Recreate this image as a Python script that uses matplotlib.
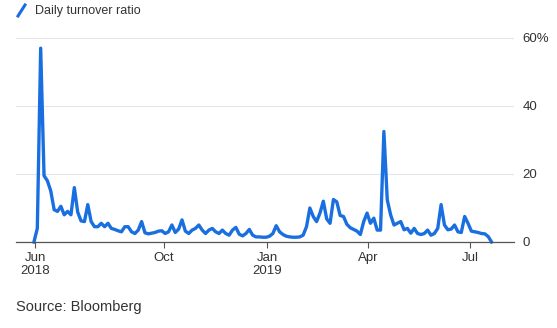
import pandas as pd
import matplotlib
matplotlib.use('Agg')
import matplotlib.pyplot as plt
from matplotlib.lines import Line2D

# daily turnover ratio (%), one reading every 3 days from the first trading day
start_date = '2018-06-07'
turnover = [
    0.0, 4.0, 57.0, 19.5, 18.0, 15.0, 9.5, 9.0, 10.5, 8.0,
    9.0, 8.0, 16.0, 8.8, 6.2, 6.0, 11.0, 6.0, 4.5, 4.5,
    5.5, 4.5, 5.5, 4.0, 3.7, 3.3, 3.0, 4.5, 4.5, 3.0,
    2.5, 3.5, 6.0, 2.7, 2.4, 2.6, 2.8, 3.2, 3.3, 2.5,
    3.0, 5.0, 2.8, 3.8, 6.5, 3.2, 2.5, 3.5, 4.0, 5.0,
    3.5, 2.5, 3.5, 4.0, 3.0, 2.5, 3.5, 2.5, 2.0, 3.5,
    4.3, 2.3, 1.8, 2.5, 3.7, 2.0, 1.5, 1.5, 1.4, 1.4,
    1.7, 2.5, 4.8, 3.0, 2.2, 1.7, 1.5, 1.4, 1.4, 1.5,
    2.0, 4.5, 10.0, 7.5, 6.0, 8.5, 12.0, 6.8, 5.5, 12.5,
    11.8, 7.8, 7.5, 5.2, 4.2, 3.7, 3.2, 2.2, 6.0, 8.5,
    5.5, 7.0, 3.5, 3.5, 32.5, 12.4, 8.0, 5.0, 5.5, 6.0,
    3.6, 4.0, 2.6, 4.0, 2.5, 2.2, 2.5, 3.5, 2.0, 2.5,
    4.0, 11.0, 5.0, 3.6, 3.8, 5.0, 3.0, 2.8, 7.5, 5.5,
    3.2, 3.0, 2.8, 2.5, 2.4, 1.6, 0.0,
]
dates = pd.date_range(start_date, periods=len(turnover), freq='3D')

tick_dates = pd.to_datetime(['2018-06-08', '2018-10-01', '2019-01-01', '2019-04-01', '2019-07-01'])
tick_labels = ['Jun\n2018', 'Oct', 'Jan\n2019', 'Apr', 'Jul']
y_ticks = [0, 20, 40, 60]
y_labels = ['0', '20', '40', '60%']

blue = '#1a6fe0'
text_col = '#333333'

fig = plt.figure(figsize=(5.57, 3.28), dpi=100)
ax = fig.add_axes([16 / 557, 1 - 242 / 328, (514 - 16) / 557, (242 - 38) / 328])

ax.plot(dates, turnover, color=blue, linewidth=2.4, solid_joinstyle='round', clip_on=False, zorder=3)

ax.set_xlim(pd.Timestamp('2018-05-22'), pd.Timestamp('2019-08-09'))
ax.set_ylim(0, 60)

ax.set_xticks(tick_dates)
ax.set_xticklabels(tick_labels, fontsize=9.5, color=text_col, family='Liberation Sans', linespacing=1.1)
ax.set_yticks(y_ticks)
ax.set_yticklabels(y_labels, fontsize=9.5, color=text_col, family='Liberation Sans')
ax.yaxis.tick_right()
for lbl in ax.get_yticklabels():
    lbl.set_horizontalalignment('left')

ax.tick_params(axis='x', length=4, width=0.8, color='#555555', pad=3)
ax.tick_params(axis='y', length=0, pad=6)

ax.grid(axis='y', color='#e6e6e6', linewidth=0.8)
ax.set_axisbelow(True)
for side in ['top', 'right', 'left']:
    ax.spines[side].set_visible(False)
ax.spines['bottom'].set_color('#555555')
ax.spines['bottom'].set_linewidth(0.9)
ax.spines['bottom'].set_zorder(4)

# legend swatch
fig.add_artist(Line2D([18 / 557, 25 / 557], [1 - 16 / 328, 1 - 5 / 328], color=blue, linewidth=2.2,
                      transform=fig.transFigure))
fig.text(35 / 557, 1 - 11 / 328, 'Daily turnover ratio', fontsize=9, color=text_col,
         family='Liberation Sans', va='center', ha='left')

fig.text(16 / 557, 1 - 307 / 328, 'Source: Bloomberg', fontsize=10.5, color=text_col,
         family='Liberation Sans', va='center', ha='left')

fig.savefig('out.png', dpi=100)
